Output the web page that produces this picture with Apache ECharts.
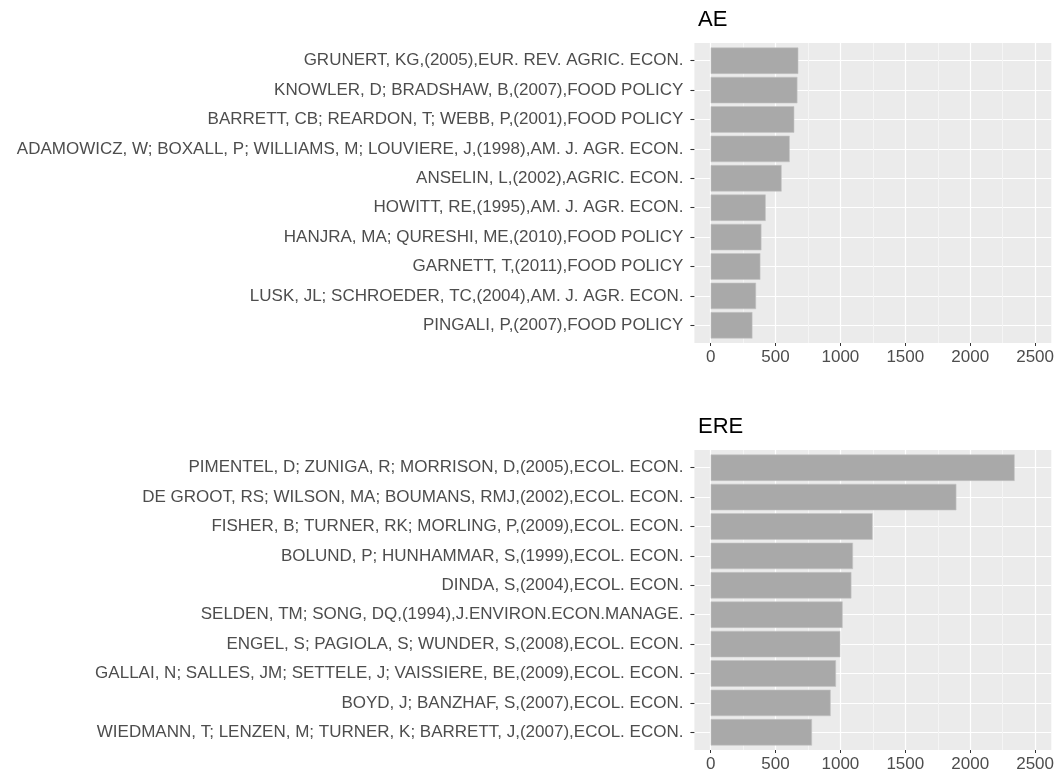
<!DOCTYPE html>
<html>
<head>
<meta charset="utf-8">
<script src="https://cdn.jsdelivr.net/npm/echarts@6/dist/echarts.min.js"></script>
<style>
  html, body { margin: 0; padding: 0; background: #fff; }
  #main { width: 1057px; height: 778px; }
</style>
</head>
<body>
<div id="main"></div>
<script>
// AE panel
var aeNames = [
    'GRUNERT, KG,(2005),EUR. REV. AGRIC. ECON.',
    'KNOWLER, D; BRADSHAW, B,(2007),FOOD POLICY',
    'BARRETT, CB; REARDON, T; WEBB, P,(2001),FOOD POLICY',
    'ADAMOWICZ, W; BOXALL, P; WILLIAMS, M; LOUVIERE, J,(1998),AM. J. AGR. ECON.',
    'ANSELIN, L,(2002),AGRIC. ECON.',
    'HOWITT, RE,(1995),AM. J. AGR. ECON.',
    'HANJRA, MA; QURESHI, ME,(2010),FOOD POLICY',
    'GARNETT, T,(2011),FOOD POLICY',
    'LUSK, JL; SCHROEDER, TC,(2004),AM. J. AGR. ECON.',
    'PINGALI, P,(2007),FOOD POLICY'
];
var aeValues = [672, 665, 641, 606, 544, 422, 389, 381, 348, 320];

// ERE panel
var ereNames = [
    'PIMENTEL, D; ZUNIGA, R; MORRISON, D,(2005),ECOL. ECON.',
    'DE GROOT, RS; WILSON, MA; BOUMANS, RMJ,(2002),ECOL. ECON.',
    'FISHER, B; TURNER, RK; MORLING, P,(2009),ECOL. ECON.',
    'BOLUND, P; HUNHAMMAR, S,(1999),ECOL. ECON.',
    'DINDA, S,(2004),ECOL. ECON.',
    'SELDEN, TM; SONG, DQ,(1994),J.ENVIRON.ECON.MANAGE.',
    'ENGEL, S; PAGIOLA, S; WUNDER, S,(2008),ECOL. ECON.',
    'GALLAI, N; SALLES, JM; SETTELE, J; VAISSIERE, BE,(2009),ECOL. ECON.',
    'BOYD, J; BANZHAF, S,(2007),ECOL. ECON.',
    'WIEDMANN, T; LENZEN, M; TURNER, K; BARRETT, J,(2007),ECOL. ECON.'
];
var ereValues = [2331, 1884, 1242, 1091, 1079, 1012, 994, 961, 920, 777];

var panelTitles = ['AE', 'ERE'];
var majorTicks = [0, 500, 1000, 1500, 2000, 2500];
var minorTicks = [250, 750, 1250, 1750, 2250];
var rowCenters = [1, 2, 3, 4, 5, 6, 7, 8, 9, 10];
var xMin = -125, xMax = 2625;

var myChart = echarts.init(document.getElementById('main'));
var font = '"Liberation Sans", Arial, sans-serif';

var panelTops = [43, 450];
var panelH = 300;
var bandPad = 3;   // ggplot keeps 0.6 band of space at each end

var grids = [], xAxes = [], yAxes = [], series = [], titles = [];

function addPanel(p, names, values) {
    var top = panelTops[p];
    // background grid (full panel) + bar grid (inset by the discrete expansion)
    var gBack = grids.length;
    grids.push({ left: 694.4, width: 358.6, top: top, height: panelH, show: true, backgroundColor: '#EBEBEB', borderWidth: 0 });
    var gBar = grids.length;
    grids.push({ left: 694.4, width: 358.6, top: top + bandPad, height: panelH - 2 * bandPad });

    // minor vertical lines
    xAxes.push({
        type: 'value', gridIndex: gBack, min: xMin, max: xMax, position: 'bottom',
        axisLine: { show: false, onZero: false },
        axisTick: { show: false, customValues: minorTicks },
        axisLabel: { show: false },
        splitLine: { show: true, lineStyle: { color: '#F5F5F5', width: 1 } }
    });
    // major vertical lines + labels
    xAxes.push({
        type: 'value', gridIndex: gBack, min: xMin, max: xMax, position: 'bottom',
        axisLine: { show: false, onZero: false },
        axisTick: { show: true, length: 3, customValues: majorTicks, lineStyle: { color: '#333333', width: 1 } },
        axisLabel: {
            show: true, customValues: majorTicks, margin: 6, color: '#4D4D4D', fontSize: 17, fontFamily: font,
            formatter: function(v) { return String(v); }
        },
        splitLine: { show: true, lineStyle: { color: '#FFFFFF', width: 1.2 } }
    });
    // horizontal lines through the row centres
    yAxes.push({
        type: 'value', gridIndex: gBack, min: 0.4, max: 10.6, inverse: true, position: 'left',
        axisLine: { show: false, onZero: false },
        axisTick: { show: false, customValues: rowCenters },
        axisLabel: { show: false },
        splitLine: { show: true, lineStyle: { color: '#FFFFFF', width: 1.2 } }
    });

    var xBar = xAxes.length;
    xAxes.push({ type: 'value', gridIndex: gBar, min: xMin, max: xMax, show: false, splitLine: { show: false } });
    var yBar = yAxes.length;
    yAxes.push({
        type: 'category', gridIndex: gBar, data: names, inverse: true, position: 'left',
        axisLine: { show: false, onZero: false },
        axisTick: { show: true, alignWithLabel: true, length: 4, lineStyle: { color: '#333333', width: 1.1 } },
        axisLabel: { margin: 11, color: '#4D4D4D', fontSize: 17, fontFamily: font },
        splitLine: { show: false }
    });

    series.push({
        type: 'bar', xAxisIndex: xBar, yAxisIndex: yBar, data: values,
        barCategoryGap: '10%',
        itemStyle: { color: '#A9A9A9', borderColor: '#C4C4C4', borderWidth: 0.6 },
        silent: true, z: 3
    });

    titles.push({
        text: panelTitles[p], left: 693, top: top - 39,
        textStyle: { fontSize: 22, fontWeight: 'normal', color: '#000000', fontFamily: font }
    });
}

addPanel(0, aeNames, aeValues);
addPanel(1, ereNames, ereValues);

myChart.setOption({
    animation: false,
    backgroundColor: '#FFFFFF',
    title: titles,
    grid: grids,
    xAxis: xAxes,
    yAxis: yAxes,
    series: series
});
</script>
</body>
</html>
